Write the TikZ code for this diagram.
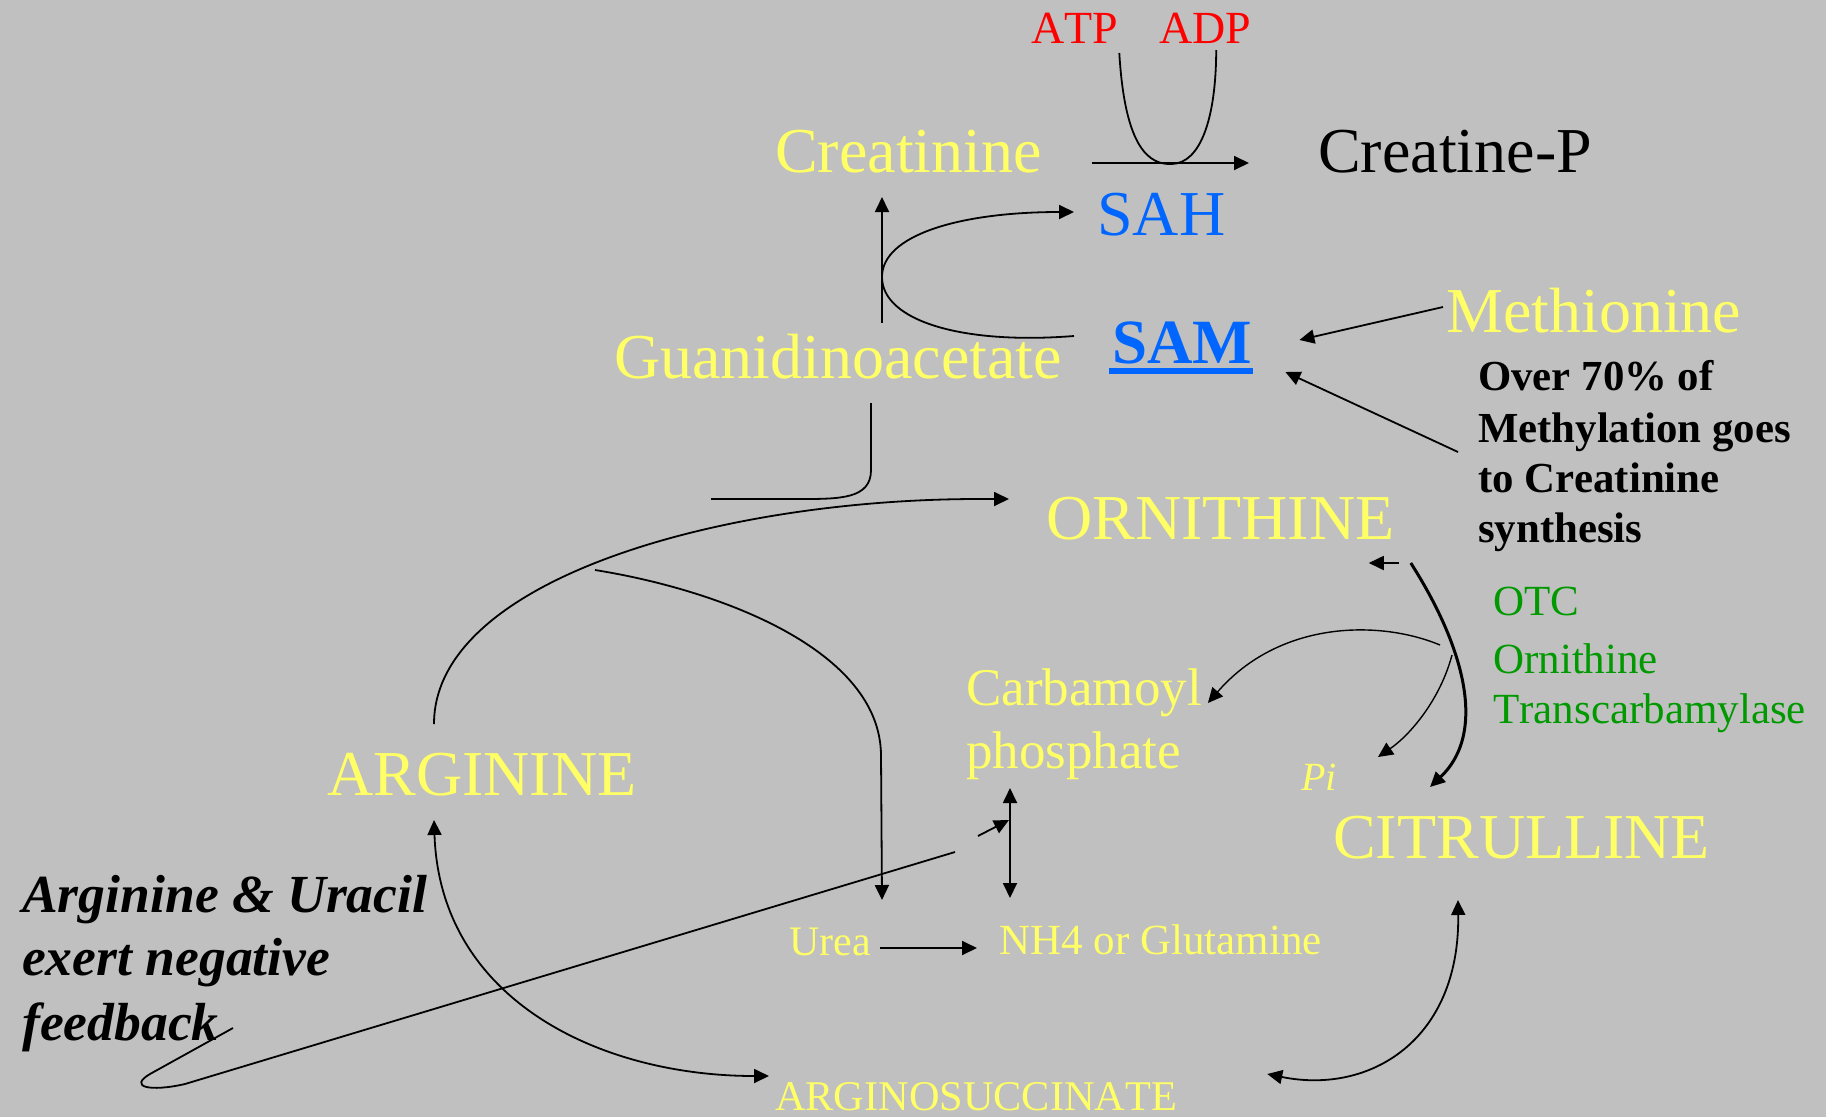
\documentclass[tikz,border=0pt]{standalone}
\usepackage{fontspec}
\setmainfont{Liberation Serif}[Kerning=Off]
\usetikzlibrary{calc,arrows.meta}
\definecolor{bggray}{RGB}{192,192,192}
\definecolor{ylw}{RGB}{255,255,102}
\definecolor{metblue}{RGB}{0,102,255}
\definecolor{enzgreen}{RGB}{0,153,0}
\def\setsz#1{\fontsize{#1}{#1}\selectfont}
\tikzset{
	txt/.style={inner sep=0pt, anchor=base west},
	big/.style={txt, font=\setsz{64}},
	mid/.style={txt, font=\setsz{43}},
	arr/.style={line width=1.8pt, -{Triangle[length=15pt,width=14pt]}},
	darr/.style={line width=1.8pt, {Triangle[length=15pt,width=14pt]}-{Triangle[length=15pt,width=14pt]}},
}

\begin{document}
\begin{tikzpicture}[x=1pt, y=-1pt]
			%%%%% START %%%%%
			
			\fill[bggray] (0,0) rectangle (1826,1117);
			\useasboundingbox (0,0) rectangle (1826,1117);
			
			\node[txt, text=red, font=\setsz{46}] (atp) at (1031,43) {ATP};
			\node[txt, text=red, font=\setsz{46}] (adp) at (1159,43) {ADP};
			\node[big, text=ylw] (creat) at (775,172) {Creatinine};
			\node[big, text=black] (creatP) at (1318,172) {Creatine-P};
			\node[big, text=metblue] (sah) at (1097,235) {SAH};
			\node[big, text=metblue, font=\setsz{63}\bfseries] (sam) at (1112,363) {SAM};
			\node[big, text=ylw] (guan) at (614,378) {Guanidinoacetate};
			\node[big, text=ylw] (met) at (1446,332) {Methionine};
			
			\node[mid, font=\setsz{42.8}\bfseries] (over1) at (1478,390) {Over 70\% of};
			\node[mid, font=\setsz{42.8}\bfseries] (over2) at (1478,442) {Methylation goes};
			\node[mid, font=\setsz{42.8}\bfseries] (over3) at (1478,492) {to Creatinine};
			\node[mid, font=\setsz{42.8}\bfseries] (over4) at (1478,542) {synthesis};
			
			\node[big, text=ylw] (orn) at (1046,539) {ORNITHINE};
			\node[mid, text=enzgreen] (otc) at (1493,615) {OTC};
			\node[mid, text=enzgreen] (otcA) at (1493,673) {Ornithine};
			\node[mid, text=enzgreen] (otcB) at (1493,723) {Transcarbamylase};
			\node[txt, text=ylw, font=\setsz{53}] (carb1) at (966,705) {Carbamoyl};
			\node[txt, text=ylw, font=\setsz{53}] (carb2) at (966,768) {phosphate};
			\node[txt, text=ylw, font=\setsz{40}\itshape] (pi) at (1301,790) {Pi};
			\node[big, text=ylw] (arg) at (327,795) {ARGININE};
			\node[big, text=ylw] (cit) at (1333,858) {CITRULLINE};
			
			\node[txt, font=\setsz{53.6}\bfseries\itshape] (fb1) at (22,912) {Arginine \& Uracil};
			\node[txt, font=\setsz{53.6}\bfseries\itshape] (fb2) at (22,975) {exert negative};
			\node[txt, font=\setsz{53.6}\bfseries\itshape] (fb3) at (22,1040) {feedback};
			
			\node[txt, text=ylw, font=\setsz{42}] (urea) at (789,955) {Urea};
			\node[mid, text=ylw] (nh4) at (999,954) {NH4 or Glutamine};
			\node[txt, text=ylw, font=\setsz{42.3}] (argsucc) at (775,1110) {ARGINOSUCCINATE};
			
			\draw[metblue, line width=6pt] ($(sam.base west)+(-3,8)$) -- ($(sam.base east)+(1,8)$);
			
			\draw[arr] ($(creat.base east)+(50,-9)$) -- ($(creatP.base west)+(-69,-9)$);
			\draw[line width=1.8pt] ($(atp.base east)+(1,10)$) .. controls (1125,150) and (1150,165) .. (1172,164) .. controls (1200,163) and (1216,120) .. ($(adp.base)+(11,7)$);
			
			\draw[arr] ($(guan.base west)+(268,-55)$) -- ($(creat.base west)+(107,25)$);
			\draw[arr] ($(sam.base west)+(-38,-27)$) .. controls (960,345) and (882,320) .. (882,277) .. controls (882,235) and (960,212) .. ($(sah.base west)+(-23,-23)$);
			\draw[arr] ($(met.base west)+(-3,-25)$) -- ($(sam.base east)+(47,-23)$);
			\draw[arr] ($(over2.base west)+(-20,10)$) -- ($(sam.base east)+(33,9)$);
			
			\draw[line width=1.8pt] ($(guan.base west)+(257,25)$) -- (871,470) .. controls (871,499) and (840,499) .. (800,499) -- (711,499);
			\draw[arr] ($(arg.base west)+(107,-71)$) .. controls (434,580) and (720,499) .. (979,499) -- ($(orn.base west)+(-37,-40)$);
			
			\coordinate (ureaIn) at (595,570);
			\draw[arr] (ureaIn) .. controls (720,590) and (880,650) .. (881,755) -- ($(urea.base west)+(93,-55)$);
			\draw[arr] ($(urea.base east)+(9,-7)$) -- ($(nh4.base west)+(-22,-6)$);
			\draw[darr] ($(carb2.base west)+(44,20)$) -- ($(nh4.base west)+(11,-56)$);
			
			\coordinate (fbEnd) at (955,852);
			\coordinate (fbTip) at (978,836);
			\draw[line width=1.8pt] ($(fb3.base west)+(211,-12)$) -- (150,1074) .. controls (128,1087) and (150,1092) .. (185,1084) -- (fbEnd);
			\draw[arr] (fbTip) -- ($(carb2.base west)+(43,52)$);
			
			\draw[darr] ($(arg.base west)+(107,25)$) .. controls (440,1000) and (600,1076) .. ($(argsucc.base west)+(-6,-34)$);
			\draw[darr] ($(argsucc.base east)+(90,-36)$) .. controls (1370,1095) and (1460,1040) .. ($(cit.base west)+(125,42)$);
			
			\coordinate (toCarb) at (1440,645);
			\coordinate (toPi) at (1452,655);
			\draw[arr] ($(orn.base east)+(4,24)$) -- ($(orn.base east)+(-26,24)$);
			\draw[arr, line width=3pt] ($(orn.base east)+(16,24)$) .. controls (1460,640) and (1490,730) .. ($(cit.base west)+(97,-71)$);
			\draw[arr, line width=1.4pt] (toCarb) .. controls (1380,620) and (1280,620) .. ($(carb1.base east)+(6,-2)$);
			\draw[arr, line width=1.4pt] (toPi) .. controls (1440,700) and (1410,735) .. ($(pi.base west)+(77,-33)$);
			
			%%%%% END %%%%%
\end{tikzpicture}
\end{document}
